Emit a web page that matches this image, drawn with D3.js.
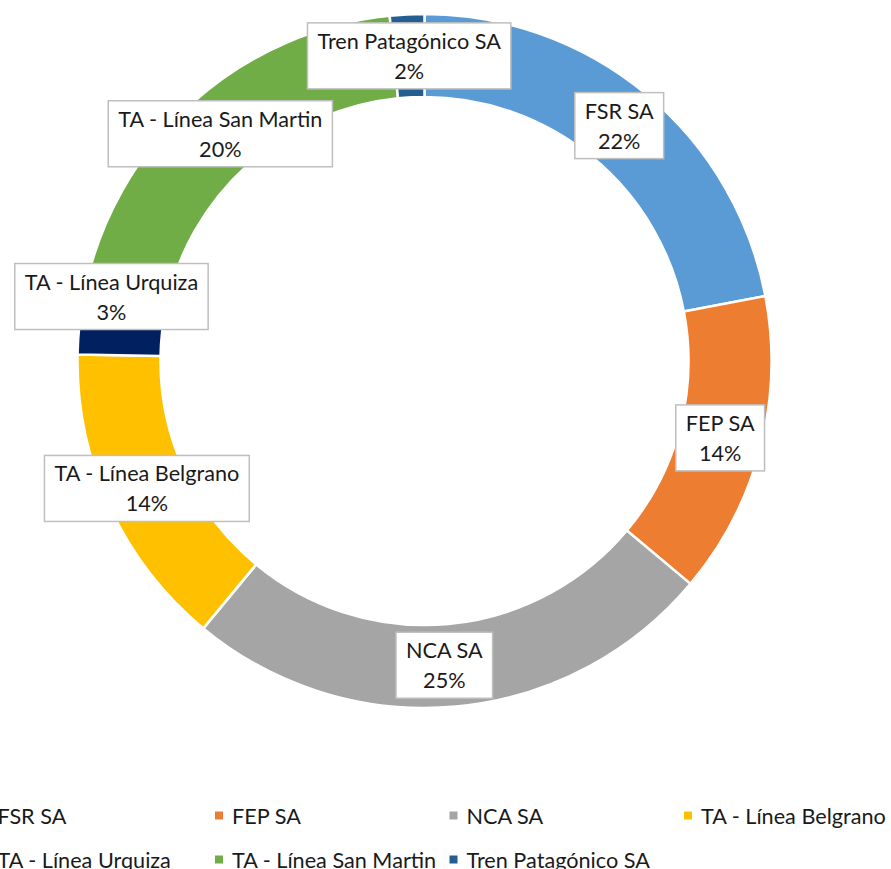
<!DOCTYPE html>
<html>
<head>
<meta charset="utf-8">
<script src="https://cdn.jsdelivr.net/npm/d3@7"></script>
<style>
html,body{margin:0;padding:0;background:#fff;overflow:hidden;}
svg{display:block;}
</style>
</head>
<body>
<svg id="chart" width="891" height="869"></svg>
<script>
// ---- data ----
const categories = ["FSR SA", "FEP SA", "NCA SA", "TA - Línea Belgrano", "TA - Línea Urquiza", "TA - Línea San Martin", "Tren Patagónico SA"];
const values = [22.0, 14.1, 24.9, 14.3, 3.0, 20.1, 1.6];
const percentLabels = ["22%", "14%", "25%", "14%", "3%", "20%", "2%"];
const colors = ["#5B9BD5", "#ED7D31", "#A5A5A5", "#FFC000", "#002060", "#70AD47", "#255E91"];

// ---- layout / style ----
const W = 891, H = 869;
const cx = 424.5, cy = 361, outerR = 347, innerR = 264;
const fontFamily = "Lato, 'Open Sans', 'Liberation Sans', sans-serif";
const textColor = "#1a1a1a";
// manual nudges of individual data labels (as in the original chart)
const labelNudge = { "TA - Línea Urquiza": [-9.5, -30], "NCA SA": [-8, 0] };

const svg = d3.select("#chart");

// fit font size so that text widths resemble the original
const probe = svg.append("text").attr("font-family", fontFamily).attr("font-size", 100).text("TA - Línea Belgrano");
const probeW = probe.node().getComputedTextLength();
probe.remove();
const fontSize = 100 * 185 / probeW;

const data = categories.map((c, i) => ({ name: c, value: values[i], pct: percentLabels[i], color: colors[i] }));

const pie = d3.pie().sort(null).value(d => d.value).startAngle(0).endAngle(2 * Math.PI);
const arcs = pie(data);
const arc = d3.arc().innerRadius(innerR).outerRadius(outerR);
const labelArc = d3.arc().innerRadius((innerR + outerR) / 2).outerRadius((innerR + outerR) / 2);

const g = svg.append("g").attr("transform", `translate(${cx},${cy})`);

g.selectAll("path.slice")
  .data(arcs)
  .join("path")
  .attr("class", "slice")
  .attr("d", arc)
  .attr("fill", d => d.data.color)
  .attr("stroke", "#fff")
  .attr("stroke-width", 2.5)
  .attr("stroke-linejoin", "miter");

// data labels
const lineGap = 30, padX = 10, boxH = 66;
const labels = g.selectAll("g.label")
  .data(arcs)
  .join("g")
  .attr("class", "label")
  .attr("transform", d => {
    const [x, y] = labelArc.centroid(d);
    const n = labelNudge[d.data.name] || [0, 0];
    return `translate(${x + n[0]},${y + n[1]})`;
  });

labels.each(function(d) {
  const sel = d3.select(this);
  const rect = sel.append("rect");
  const t1 = sel.append("text")
    .attr("text-anchor", "middle").attr("dominant-baseline", "central")
    .attr("y", -lineGap / 2)
    .attr("font-family", fontFamily).attr("font-size", fontSize).attr("fill", textColor)
    .text(d.data.name);
  const t2 = sel.append("text")
    .attr("text-anchor", "middle").attr("dominant-baseline", "central")
    .attr("y", lineGap / 2)
    .attr("font-family", fontFamily).attr("font-size", fontSize).attr("fill", textColor)
    .text(d.data.pct);
  const w = Math.max(t1.node().getComputedTextLength(), t2.node().getComputedTextLength()) + 2 * padX;
  rect.attr("x", -w / 2).attr("y", -boxH / 2).attr("width", w).attr("height", boxH)
    .attr("fill", "#fff").attr("stroke", "#BFBFBF").attr("stroke-width", 1.5);
});

// legend
const legendCols = 4, colStep = 234.5, firstMarkerX = -19.5;
const rowY = [815.5, 859.5], marker = 8, textGap = 17;
const legend = svg.append("g").attr("class", "legend");
const items = legend.selectAll("g.item")
  .data(data)
  .join("g")
  .attr("class", "item")
  .attr("transform", (d, i) => `translate(${firstMarkerX + (i % legendCols) * colStep},${rowY[Math.floor(i / legendCols)]})`);
items.append("rect")
  .attr("x", 0).attr("y", -marker / 2)
  .attr("width", marker).attr("height", marker)
  .attr("fill", d => d.color);
items.append("text")
  .attr("x", textGap).attr("y", 0)
  .attr("dominant-baseline", "central")
  .attr("font-family", fontFamily).attr("font-size", fontSize).attr("fill", textColor)
  .text(d => d.name);
</script>
</body>
</html>
